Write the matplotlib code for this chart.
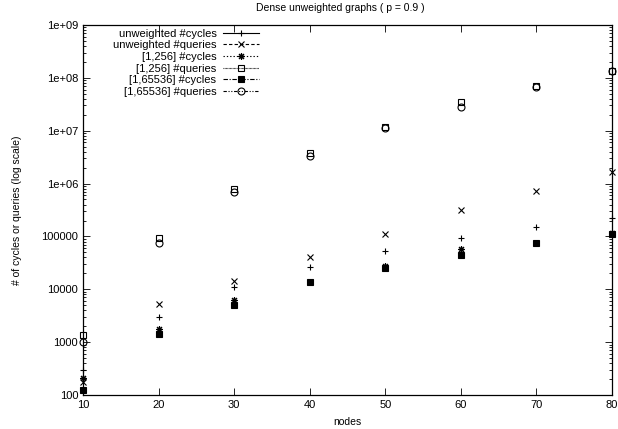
import math
import matplotlib
matplotlib.use("Agg")
import matplotlib.pyplot as plt
from matplotlib.lines import Line2D
from matplotlib.ticker import FixedLocator, FuncFormatter, LogLocator, NullFormatter

plt.rcParams['font.family'] = ['Liberation Sans', 'DejaVu Sans']

nodes = [10, 20, 30, 40, 50, 60, 70, 80]

unw_cycles = [300, 3000, 11000, 26000, 52000, 92000, 150000, 220000]
unw_queries = [180, 5200, 14500, 40000, 113000, 320000, 730000, 1660000]
w256_cycles = [210, 1800, 6200, 14000, 28000, 57000, 76000, 115000]
w256_queries = [1350, 93000, 780000, 3800000, 12000000, 35000000, 70000000, 135000000]
w64k_cycles = [122, 1420, 5100, 13700, 25500, 45000, 75000, 113000]
w64k_queries = [1000, 75000, 700000, 3300000, 11500000, 28500000, 67000000, 135000000]

labels = ["unweighted #cycles", "unweighted #queries", "[1,256] #cycles",
          "[1,256] #queries", "[1,65536] #cycles", "[1,65536] #queries"]

series = [unw_cycles, unw_queries, w256_cycles, w256_queries, w64k_cycles, w64k_queries]
markers = ['+', 'x', (8, 2, 0), 's', 's', 'o']
fills = ['full', 'full', 'full', 'none', 'full', 'none']
styles = ['-', (0, (3, 2)), (0, (1.2, 1.8)), (0, (0.6, 0.6)), (0, (4, 1.5, 1, 1.5)),
          (0, (3, 1.5, 1, 1.5, 1, 1.5))]

fig = plt.figure(figsize=(6.18, 4.29), dpi=100)
ax = fig.add_axes([83 / 618, 1 - 395 / 429, 529 / 618, 370 / 429])

handles = []
for vals, m, f, ls, lab in zip(series, markers, fills, styles, labels):
    ms = 5 if m != 's' else 4.5
    ax.plot(nodes, vals, ls='none', marker=m, fillstyle=f, color='black',
            markersize=ms, markeredgewidth=0.8, clip_on=False)
    handles.append(Line2D([], [], color='black', ls=ls, lw=0.8, marker=m,
                          fillstyle=f, markersize=ms, markeredgewidth=0.8, label=lab))

ax.set_yscale('log')
ax.set_xlim(10, 80)
ax.set_ylim(100, 1e9)
ax.xaxis.set_major_locator(FixedLocator(nodes))
ax.yaxis.set_major_locator(LogLocator(base=10, numticks=20))
ax.yaxis.set_minor_locator(LogLocator(base=10, subs=range(2, 10), numticks=20))
ax.yaxis.set_minor_formatter(NullFormatter())


def fmt(v, pos):
    if v >= 1e6:
        return "1e+%02d" % round(math.log10(v))
    return "%d" % round(v)


ax.yaxis.set_major_formatter(FuncFormatter(fmt))
ax.tick_params(which='both', direction='in', top=True, right=True, labelsize=8, width=0.6)
ax.tick_params(which='major', length=5)
ax.tick_params(which='minor', length=2.5)
for s in ax.spines.values():
    s.set_linewidth(0.9)

ax.set_title("Dense unweighted graphs ( p = 0.9 )", fontsize=7.5, pad=10, x=0.486)
ax.set_xlabel("nodes", fontsize=7.5, labelpad=5)
ax.set_ylabel("# of cycles or queries (log scale)", fontsize=7.5, labelpad=14)

ax.legend(handles=handles, loc='upper right', bbox_to_anchor=(0.332, 0.99),
          frameon=False, markerfirst=False, fontsize=8, handlelength=3.2,
          handletextpad=0.6, labelspacing=0.15, borderpad=0, borderaxespad=0)

fig.savefig("out.png", dpi=100)
